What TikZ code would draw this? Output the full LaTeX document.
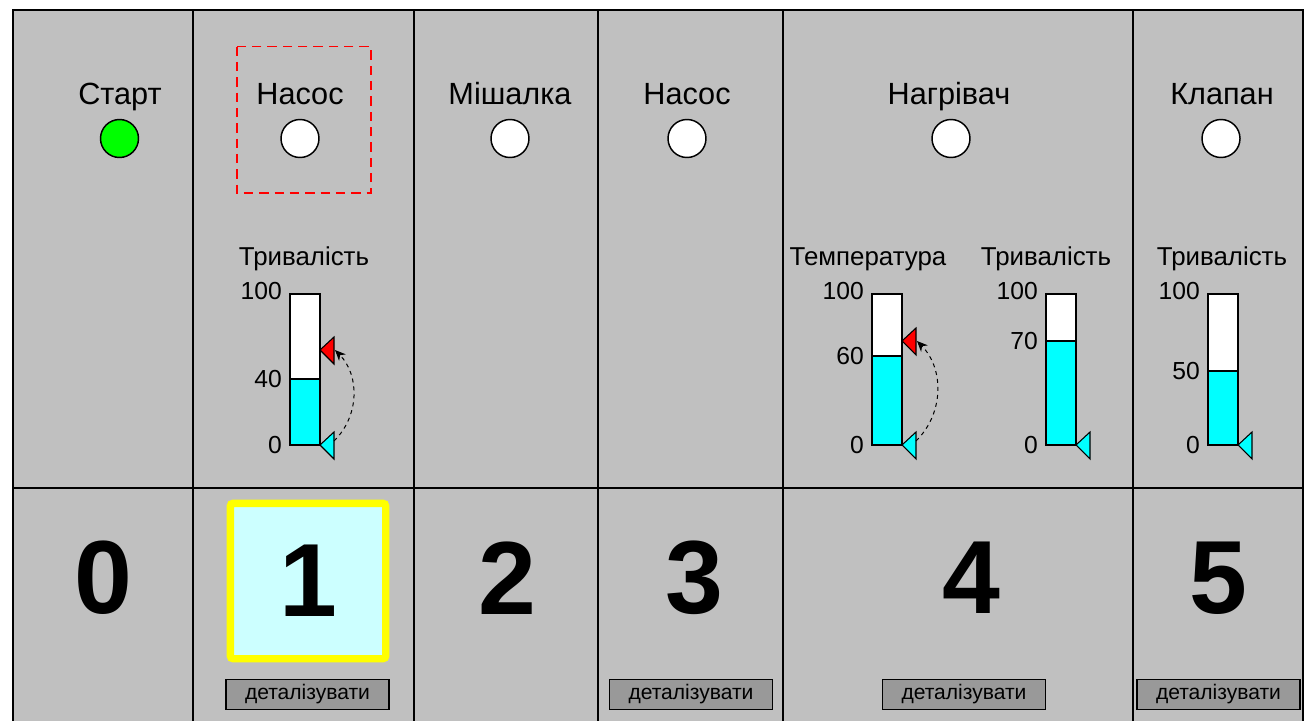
\documentclass[tikz,border=0pt]{standalone}
\usepackage{fontspec}
\setmainfont{Liberation Sans}
\usetikzlibrary{arrows.meta}

\definecolor{panelgrey}{HTML}{C0C0C0}
\definecolor{btngrey}{HTML}{999999}
\definecolor{levelcyan}{RGB}{0,255,255}
\definecolor{activecyan}{HTML}{CCFFFF}
\definecolor{stepyellow}{RGB}{255,255,0}
\definecolor{lampgreen}{RGB}{0,255,0}
\definecolor{markred}{RGB}{255,0,0}

\tikzset{
  cell/.style={draw=black, line width=1.5pt, fill=panelgrey},
  title/.style={anchor=base, font=\fontsize{23}{27}\selectfont},
  caption/.style={anchor=base, font=\fontsize{19.4}{23}\selectfont},
  scalenum/.style={anchor=east, inner sep=0pt, font=\fontsize{18.5}{21}\selectfont},
  lamp/.style={circle, draw=black, line width=1.1pt, minimum size=28.5pt, inner sep=0pt, fill=white},
  bignum/.style={font=\fontsize{78}{80}\selectfont\bfseries},
  detail/.style={draw=black, line width=1.1pt, fill=btngrey, minimum width=122pt,
    minimum height=22.5pt, inner sep=0pt, font=\fontsize{15.8}{18}\selectfont},
  bar/.style={draw=black, line width=1.1pt},
  pointer/.style={draw=black, line width=0.8pt},
  setarrow/.style={dashed, line width=0.75pt, -{Stealth[length=8pt,width=7pt]}},
}

% bar gauge: name, bar x, level y, level value, caption, caption x
\newcommand{\gauge}[6]{%
  \node[caption] (#1cap) at (#6,265) {#5};
  \fill[white] (#2,294) rectangle (#2+30,#3);
  \fill[levelcyan] (#2,#3) rectangle (#2+30,445);
  \draw[bar] (#2,294) rectangle (#2+30,445) (#2,#3) -- (#2+30,#3);
  \node[scalenum] (#1top) at (#2-8,291) {100};
  \node[scalenum] (#1mid) at (#2-8,#3) {#4};
  \node[scalenum] (#1zero) at (#2-8,445) {0};
  \draw[pointer, fill=levelcyan] (#2+30,445) -- ++(14,-13) -- ++(0,27) -- cycle;
  \coordinate (#1low) at (#2+44,441);
}
% red set point marker: name, bar x, y
\newcommand{\setpoint}[3]{%
  \draw[pointer, fill=markred] (#2+30,#3) -- ++(14,-13) -- ++(0,27) -- cycle;
  \coordinate (#1high) at (#2+45,#3);
}

\begin{document}
\begin{tikzpicture}[x=0.75pt, y=-0.75pt]
\useasboundingbox (0,0) rectangle (1307,721);
\clip (0,0) rectangle (1307,721);

% cells, upper and lower row
\foreach \xa/\xb in {13/193, 193/414, 414/598, 598/783, 783/1133, 1133/1303} {
  \draw[cell] (\xa,10) rectangle (\xb,488);
  \draw[cell] (\xa,488) rectangle (\xb,740);
}

% step titles and lamps
\foreach \i/\x/\txt in {0/120/Старт, 1/300/Насос, 2/510/Мішалка, 3/687/Насос, 4/949/Нагрівач, 5/1222/Клапан}
  \node[title] (title\i) at (\x,104) {\txt};
\node[lamp, fill=lampgreen] (lamp0) at (119.5,138.5) {};
\foreach \i/\x in {1/300, 2/510, 3/687, 4/951, 5/1221}
  \node[lamp] (lamp\i) at (\x,138.5) {};
\draw[markred, dashed, line width=1.4pt, dash pattern=on 7pt off 4.5pt] (237,46.5) rectangle (371,193);

% gauges
\gauge{g1}{290}{379}{40}{Тривалість}{304}
\gauge{g4t}{872}{356}{60}{Температура}{868}
\gauge{g4d}{1046}{341}{70}{Тривалість}{1046}
\gauge{g5}{1208}{371}{50}{Тривалість}{1222}
\setpoint{g1}{290}{350}
\setpoint{g4t}{872}{341}
\draw[setarrow] (g1low) to[bend right=45] (g1high);
\draw[setarrow] (g4tlow) to[bend right=45] (g4thigh);

% step numbers
\foreach \i/\x in {0/103, 2/507, 3/694, 4/971, 5/1218}
  \node[bignum] (num\i) at (\x,578) {\i};
\node[bignum, draw=stepyellow, line width=5.5pt, fill=activecyan, rounded corners=2pt,
  minimum size=116.5pt] (num1) at (308,581) {1};

% detail buttons
\foreach \i/\x in {1/307.5, 3/691, 4/964, 5/1218.5}
  \node[detail] (detail\i) at (\x,694.5) {деталізувати};
\end{tikzpicture}
\end{document}
